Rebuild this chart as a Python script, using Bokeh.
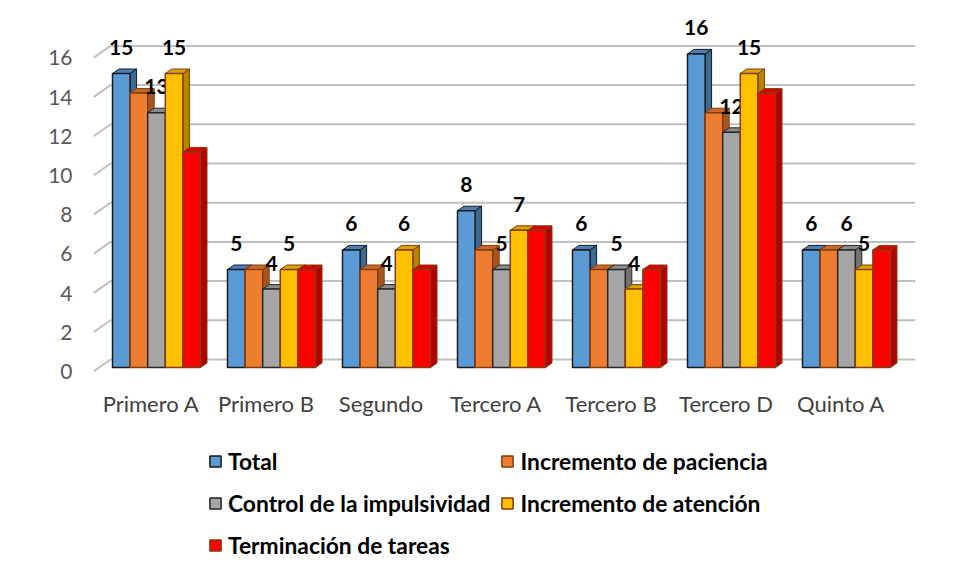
from bokeh.plotting import figure
from bokeh.layouts import column
from bokeh.models import Range1d, LinearAxis, FixedTicker, Legend, LegendItem
from bokeh.core.properties import value
from bokeh.embed import file_html
from bokeh.resources import INLINE

# ---- data ----
categories = ["Primero A", "Primero B", "Segundo", "Tercero A", "Tercero B", "Tercero D", "Quinto A"]
series_names = ["Total", "Incremento de paciencia", "Control de la impulsividad",
                "Incremento de atención", "Terminación de tareas"]
total = [15, 5, 6, 8, 6, 16, 6]
paciencia = [14, 5, 5, 6, 5, 13, 6]
impulsividad = [13, 4, 4, 5, 5, 12, 6]
atencion = [15, 5, 6, 7, 4, 15, 5]
tareas = [11, 5, 5, 7, 5, 14, 6]
y_ticks = [0, 2, 4, 6, 8, 10, 12, 14, 16]
labelled = [True, False, True, True, False]

# ---- style ----
front_colors = ["#5B9BD5", "#ED7D31", "#A5A5A5", "#FFC000", "#FF0000"]
top_colors = ["#4A80B8", "#C8692A", "#8C8C8C", "#D9A400", "#D90000"]
side_colors = ["#3D6A94", "#A8561F", "#737373", "#B38800", "#B30000"]
edge_colors = ["#1A1A1A", "#843C0C", "#262626", "#843C0C", "#843C0C"]

PX_X = 115.0   # pixels per category
PX_Y = 19.6    # pixels per unit
BAR_W = 17.6
BAR_START = -38.5
DEPTH_X, DEPTH_Y = 6.5, 4.5
WALL_X, WALL_Y, FRONT_Y = 17.0, 8.0, -4.0

FONT = "Lato"
W = 948
FRAME_L = 93

x0, x1 = -0.5, -0.5 + 822 / PX_X
y0, y1 = -11 / PX_Y, (367 - 12) / PX_Y

p = figure(width=W, height=430, x_range=Range1d(x0, x1), y_range=Range1d(y0, y1),
           output_backend="svg", toolbar_location=None,
           x_axis_type=None, y_axis_type=None,
           min_border_left=FRAME_L, min_border_right=W - 915, min_border_top=12, min_border_bottom=52)
p.outline_line_color = None
p.background_fill_color = "white"
p.border_fill_color = "white"
p.xgrid.visible = False
p.ygrid.visible = False

# back-wall gridlines with the 3D slant at the left
fy = FRONT_Y / PX_Y
wy = WALL_Y / PX_Y
wx = WALL_X / PX_X
p.segment(x0=[x0] * len(y_ticks), y0=[t + fy for t in y_ticks],
          x1=[x0 + wx] * len(y_ticks), y1=[t + wy for t in y_ticks],
          line_color="#BFBFBF", line_width=2)
p.segment(x0=[x0 + wx] * len(y_ticks), y0=[t + wy for t in y_ticks],
          x1=[x1] * len(y_ticks), y1=[t + wy for t in y_ticks],
          line_color="#BFBFBF", line_width=2)

series = [total, paciencia, impulsividad, atencion, tareas]
dx = DEPTH_X / PX_X
dy = DEPTH_Y / PX_Y
bw = BAR_W / PX_X
for j, vals in enumerate(series):
    lefts = [i + (BAR_START + BAR_W * j) / PX_X for i in range(len(categories))]
    rights = [l + bw for l in lefts]
    centers = [l + bw / 2 for l in lefts]
    p.patches(xs=[[r, r, r + dx, r + dx] for r in rights],
              ys=[[0, v, v + dy, dy] for v in vals],
              fill_color=side_colors[j], line_color=edge_colors[j], line_width=1)
    p.patches(xs=[[l, r, r + dx, l + dx] for l, r in zip(lefts, rights)],
              ys=[[v, v, v + dy, v + dy] for v in vals],
              fill_color=top_colors[j], line_color=edge_colors[j], line_width=1)
    p.vbar(x=centers, width=bw, top=vals, bottom=0,
           fill_color=front_colors[j], line_color=edge_colors[j], line_width=1.5)
    if labelled[j]:
        p.text(x=centers, y=vals, text=[str(v) for v in vals],
               text_align="center", text_baseline="middle", y_offset=-26,
               text_font=value(FONT), text_font_style="bold",
               text_font_size="21px", text_color="#000000")

# axes
yaxis = LinearAxis(ticker=FixedTicker(ticks=y_ticks), y_range_name="front")
p.extra_y_ranges = {"front": Range1d(y0 - fy, y1 - fy)}
yaxis.axis_line_color = None
yaxis.major_tick_line_color = None
yaxis.minor_tick_line_color = None
yaxis.major_tick_out = 0
yaxis.major_tick_in = 0
yaxis.major_label_standoff = 21
yaxis.major_label_text_font = FONT
yaxis.major_label_text_font_size = "21px"
yaxis.major_label_text_color = "#595959"
p.add_layout(yaxis, "left")

xaxis = LinearAxis(ticker=FixedTicker(ticks=list(range(len(categories)))),
                   major_label_overrides={i: c for i, c in enumerate(categories)})
xaxis.axis_line_color = None
xaxis.major_tick_line_color = None
xaxis.minor_tick_line_color = None
xaxis.major_tick_out = 0
xaxis.major_tick_in = 0
xaxis.major_label_standoff = 11
xaxis.major_label_text_font = FONT
xaxis.major_label_text_font_size = "22px"
xaxis.major_label_text_color = "#404040"
p.add_layout(xaxis, "below")

# legend panel below the chart (proxy glyphs lie outside its ranges)
LH = 139
q = figure(width=W, height=LH, x_range=Range1d(0, 1), y_range=Range1d(0, 1),
           output_backend="svg", toolbar_location=None,
           x_axis_type=None, y_axis_type=None, min_border=0)
q.outline_line_color = None
q.xgrid.visible = False
q.ygrid.visible = False
q.border_fill_color = "white"
proxies = []
for j in range(len(series_names)):
    proxies.append(q.quad(left=[-20], right=[-19], top=[-19], bottom=[-20],
                          fill_color=front_colors[j], line_color=edge_colors[j], line_width=1.5))
legend = Legend(items=[LegendItem(label=n, renderers=[r]) for n, r in zip(series_names, proxies)],
                orientation="horizontal", ncols=2, location=(208 - FRAME_L, LH - 131))
legend.label_text_font = FONT
legend.label_text_font_style = "bold"
legend.label_text_font_size = "22.8px"
legend.label_text_color = "#000000"
legend.glyph_width = 14
legend.glyph_height = 14
legend.label_standoff = 6
legend.spacing = 10
legend.label_height = 32
legend.padding = 0
legend.margin = 0
legend.border_line_color = None
legend.background_fill_alpha = 0
q.add_layout(legend, "center")

open("out.html", "w").write(file_html(column(p, q, spacing=0), INLINE))
